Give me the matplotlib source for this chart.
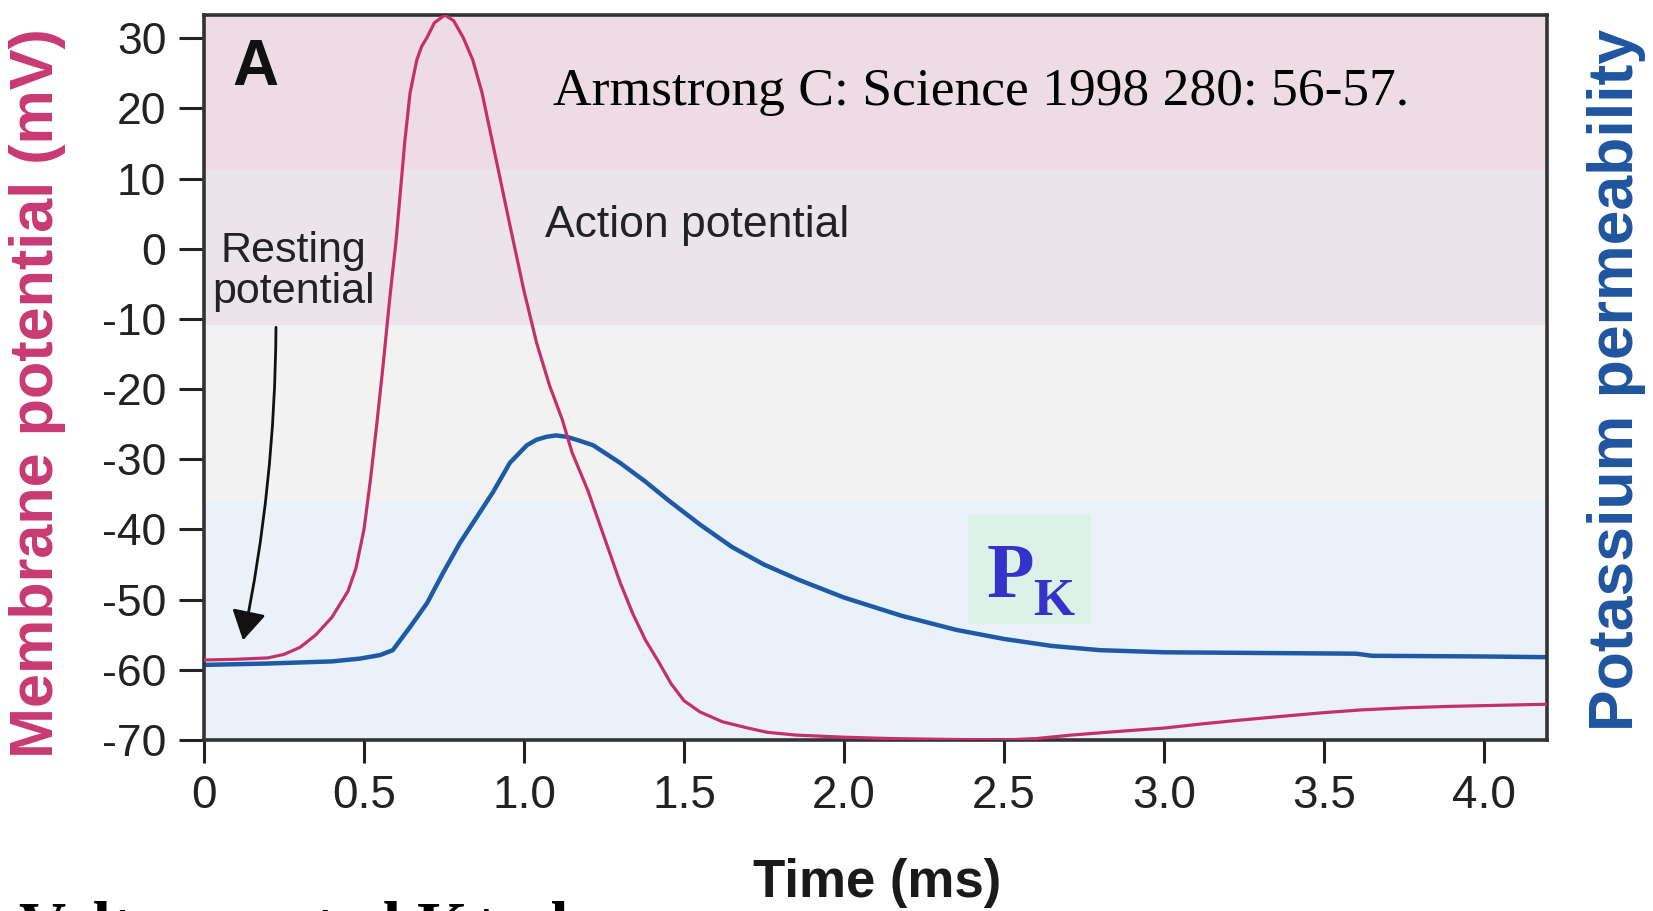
import matplotlib.pyplot as plt
from matplotlib.patches import Rectangle

plt.rcParams['axes.unicode_minus'] = False
plt.rcParams['font.family'] = 'Liberation Sans'

# membrane potential trace (mV)
vm_time = [0, 0.1, 0.2, 0.25, 0.3, 0.35, 0.4, 0.45, 0.475, 0.5, 0.52, 0.54,
           0.56, 0.58, 0.6, 0.628, 0.644, 0.665, 0.68, 0.697, 0.72, 0.753,
           0.78, 0.81, 0.84, 0.869, 0.9, 0.93, 0.96, 1.0, 1.04, 1.08, 1.12,
           1.15, 1.2, 1.25, 1.3, 1.34, 1.38, 1.42, 1.46, 1.5, 1.55, 1.62, 1.7,
           1.76, 1.85, 2.0, 2.15, 2.3, 2.5, 2.6, 2.71, 2.85, 3.0, 3.12, 3.23,
           3.35, 3.5, 3.62, 3.76, 3.9, 4.0, 4.2]
vm_mv = [-58.6, -58.5, -58.3, -57.8, -56.8, -55.0, -52.5, -48.8, -45.5, -40.0,
         -33.0, -25.0, -16.5, -7.3, 1.0, 15.5, 22.2, 26.9, 28.8, 30.1, 32.2,
         33.3, 32.5, 30.1, 26.9, 22.2, 15.5, 9.0, 2.5, -6.0, -13.5, -19.5,
         -24.4, -29.0, -34.5, -41.0, -47.5, -52.0, -55.8, -58.8, -62.0, -64.4,
         -66.0, -67.4, -68.3, -68.9, -69.3, -69.6, -69.8, -69.9, -70.0, -69.8,
         -69.3, -68.8, -68.3, -67.7, -67.2, -66.7, -66.1, -65.7, -65.4, -65.2,
         -65.1, -64.9]

# potassium permeability trace, drawn on the same vertical scale
pk_time = [0, 0.2, 0.4, 0.4875, 0.55, 0.59, 0.644, 0.697, 0.747, 0.8, 0.853,
           0.903, 0.956, 1.009, 1.04, 1.07, 1.1, 1.134, 1.17, 1.216, 1.3,
           1.38, 1.45, 1.55, 1.65, 1.75, 1.86, 2.0, 2.18, 2.35, 2.5, 2.65,
           2.8, 3.0, 3.3, 3.6, 3.65, 4.0, 4.2]
pk_level = [-59.3, -59.1, -58.8, -58.4, -57.9, -57.2, -53.9, -50.5, -46.2,
            -41.9, -38.2, -34.7, -30.5, -28.0, -27.2, -26.8, -26.6, -26.8,
            -27.3, -28.0, -30.5, -33.2, -35.8, -39.3, -42.5, -45.0, -47.2,
            -49.7, -52.3, -54.3, -55.6, -56.6, -57.2, -57.5, -57.6, -57.7,
            -58.0, -58.1, -58.2]

x_ticks = [0, 0.5, 1.0, 1.5, 2.0, 2.5, 3.0, 3.5, 4.0]
x_tick_labels = ['0', '0.5', '1.0', '1.5', '2.0', '2.5', '3.0', '3.5', '4.0']
y_ticks = [30, 20, 10, 0, -10, -20, -30, -40, -50, -60, -70]

# shaded background bands (mV)
band_edges = [-70, -36, -10.9, 11.2, 33.3]
band_colors = ['#eaf1f9', '#f2f2f2', '#ebe4eb', '#eddce4']

pink = '#c5306a'
blue = '#1e5aa5'

fig = plt.figure(figsize=(16.53, 9.11), dpi=100)
ax = fig.add_axes([0.1234, 0.1877, 0.8125, 0.7958])

for lo, hi, c in zip(band_edges[:-1], band_edges[1:], band_colors):
    ax.axhspan(lo, hi, color=c, lw=0, zorder=0)

ax.plot(vm_time, vm_mv, color=pink, lw=2.3, zorder=3,
        solid_joinstyle='round')
ax.plot(pk_time, pk_level, color=blue, lw=3.2, zorder=2,
        solid_joinstyle='round')

ax.set_xlim(0, 4.197)
ax.set_ylim(-70, 33.3)
ax.set_xticks(x_ticks)
ax.set_xticklabels(x_tick_labels)
ax.set_yticks(y_ticks)

for s in ax.spines.values():
    s.set_color('#333333')
    s.set_linewidth(2.6)

ax.tick_params(axis='y', direction='out', length=18, width=2.2, pad=9,
               labelsize=32, colors='#222222')
ax.tick_params(axis='x', direction='out', length=16.5, width=2.2, pad=8,
               labelsize=33, colors='#222222')

# axis labels
ax.text(-0.1236, 0.4786, 'Membrane potential (mV)', transform=ax.transAxes,
        rotation=90, ha='center', va='center', fontsize=44,
        fontweight='bold', color='#c83a72')
ax.text(1.052, 0.4966, 'Potassium permeability', transform=ax.transAxes,
        rotation=90, ha='center', va='center', fontsize=45,
        fontweight='bold', color='#1f55a0')
fig.text(877 / 1653, 0.0155, 'Time (ms)', ha='center', va='baseline',
         fontsize=38, fontweight='bold', color='#1a1a1a')

# annotations
ax.text(0.16, 25.8, 'A', ha='center', va='center', fontsize=46,
        fontweight='bold', color='#111111')
ax.text(0.28, -3.2, 'Resting\npotential', ha='center', va='center',
        fontsize=31, linespacing=1.02, color='#222222')
ax.text(1.066, 1.65, 'Action potential', ha='left', va='baseline',
        fontsize=32, color='#222222')
ax.annotate('', xy=(0.122, -55.8), xytext=(0.225, -11.2),
            arrowprops=dict(arrowstyle='-|>,head_length=0.6,head_width=0.35',
                            connectionstyle='arc3,rad=-0.05', color='#111111',
                            lw=2, mutation_scale=30, shrinkA=0, shrinkB=0))

ax.text(1.09, 20.5, 'Armstrong C: Science 1998 280: 56-57.', ha='left',
        va='baseline', fontsize=38.5, family='Liberation Serif',
        color='black')

ax.add_patch(Rectangle((2.3875, -53.5), 0.3845, 15.7, facecolor='#dcf1e7',
                       edgecolor='none', zorder=4))
ax.text(2.445, -49.6, 'P', ha='left', va='baseline', fontsize=56,
        fontweight='bold', family='Liberation Serif', color='#3333cc',
        zorder=5)
ax.text(2.59, -52.2, 'K', ha='left', va='baseline', fontsize=38,
        fontweight='bold', family='Liberation Serif', color='#3333cc',
        zorder=5)

# slide title cut off at the bottom edge, as in the source image
fig.text(0.0115, -0.0395, 'Voltage-gated K+ ch', ha='left', va='baseline',
         fontsize=47, fontweight='bold', family='Liberation Serif',
         color='black')

fig.savefig('out.png', dpi=100)
